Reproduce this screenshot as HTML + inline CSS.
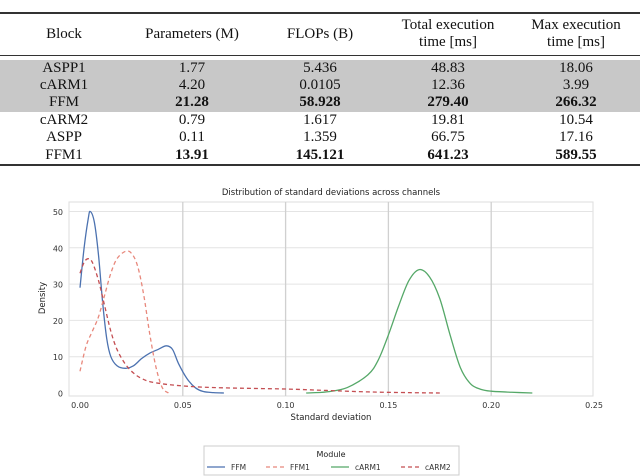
<!DOCTYPE html>
<html><head><meta charset="utf-8"><style>
body{margin:0;width:640px;height:476px;background:#fff;overflow:hidden;position:relative;font-family:"Liberation Serif",serif}
table{position:absolute;left:0;top:12px;width:640px;border-collapse:collapse;font-size:15px;color:#111;table-layout:fixed}
td,th{text-align:center;padding:0;font-weight:normal;line-height:17.4px;height:17.4px;white-space:nowrap}
.b{font-weight:bold}
</style></head><body>
<table>
<colgroup><col style="width:128px"><col style="width:128px"><col style="width:128px"><col style="width:128px"><col style="width:128px"></colgroup>
<tr style="border-top:2px solid #333;border-bottom:1px solid #333;height:42px">
<th>Block</th><th>Parameters (M)</th><th>FLOPs (B)</th><th>Total execution<br>time [ms]</th><th>Max execution<br>time [ms]</th></tr>
<tr style="height:4px"><td colspan="5" style="height:4px;line-height:4px"></td></tr>
<tr style="background:#c8c8c8"><td>ASPP1</td><td>1.77</td><td>5.436</td><td>48.83</td><td>18.06</td></tr>
<tr style="background:#c8c8c8"><td>cARM1</td><td>4.20</td><td>0.0105</td><td>12.36</td><td>3.99</td></tr>
<tr style="background:#c8c8c8"><td>FFM</td><td class="b">21.28</td><td class="b">58.928</td><td class="b">279.40</td><td class="b">266.32</td></tr>
<tr><td>cARM2</td><td>0.79</td><td>1.617</td><td>19.81</td><td>10.54</td></tr>
<tr><td>ASPP</td><td>0.11</td><td>1.359</td><td>66.75</td><td>17.16</td></tr>
<tr style="border-bottom:2px solid #333"><td>FFM1</td><td class="b">13.91</td><td class="b">145.121</td><td class="b">641.23</td><td class="b">589.55</td></tr>
</table>
<svg id="chart" width="640" height="476" style="position:absolute;left:0;top:0" font-family="'DejaVu Sans',sans-serif"></svg>
<script>
const xTicks=[0,0.05,0.10,0.15,0.20,0.25];
const xTickLabels=["0.00","0.05","0.10","0.15","0.20","0.25"];
const yTicks=[0,10,20,30,40,50];
const seriesNames=["FFM","FFM1","cARM1","cARM2"];
const ffmX=[0,0.002,0.004,0.005,0.007,0.009,0.011,0.013,0.015,0.018,0.022,0.026,0.030,0.034,0.038,0.042,0.045,0.048,0.052,0.056,0.060,0.065,0.07];
const ffmY=[29,40,48,50,47,38,25,15,10,7.5,6.8,7.5,9.5,11,12,13,12,8,4,1.5,0.4,0.1,0];
const ffm1X=[0,0.003,0.006,0.009,0.012,0.015,0.018,0.022,0.025,0.028,0.031,0.034,0.037,0.040,0.043];
const ffm1Y=[6,13,17,21,27,33,37,39,38.5,35,27,16,7,1.5,0];
const carm1X=[0.11,0.12,0.13,0.14,0.145,0.15,0.155,0.16,0.165,0.17,0.175,0.18,0.185,0.19,0.195,0.20,0.21,0.22];
const carm1Y=[0,0.3,1.5,5,9,16,24,31,34,32,26,16,7,2.5,1,0.5,0.2,0];
const carm2X=[0,0.002,0.004,0.006,0.009,0.012,0.015,0.018,0.022,0.026,0.030,0.035,0.045,0.06,0.08,0.10,0.12,0.14,0.16,0.175];
const carm2Y=[33,36,37,36,31,24,17,12,8,5.5,4,3,2.2,1.6,1.3,1.1,0.7,0.3,0.1,0];

const svg=document.getElementById('chart');const NS='http://www.w3.org/2000/svg';
const L=69,R=593,T=202,B=396;
const sx=v=>80+v*2056, sy=v=>393-v*3.63;
function mk(tag,attrs,parent){const e=document.createElementNS(NS,tag);for(const k in attrs)e.setAttribute(k,attrs[k]);(parent||svg).appendChild(e);return e;}
const frame=mk('rect',{x:L,y:T,width:R-L,height:B-T,fill:'#fff',stroke:'#ddd','stroke-width':1});


yTicks.forEach(t=>{
 if(t>0){const g=mk('line',{x1:L,x2:R,y1:sy(t),y2:sy(t),stroke:'#e4e4e4','stroke-width':1});
 
 }
 const tx=mk('text',{x:L-6,y:sy(t)+3.5,'text-anchor':'end','font-size':8,fill:'#333'});tx.textContent=t;
 
 
});
xTicks.forEach((t,i)=>{
 if(t>0&&t<0.25){const g=mk('line',{x1:sx(t),x2:sx(t),y1:T,y2:B,stroke:'#d0d0d0','stroke-width':1.3});
 
 }
 const tx=mk('text',{x:sx(t),y:408,'text-anchor':'middle','font-size':8,fill:'#333'});tx.textContent=xTickLabels[i];
 
 
});
function path(xs,ys){const p=xs.map((x,i)=>[sx(x),sy(ys[i])]);let d='M'+p[0][0]+','+p[0][1];
 for(let i=0;i<p.length-1;i++){const p0=p[Math.max(i-1,0)],p1=p[i],p2=p[i+1],p3=p[Math.min(i+2,p.length-1)];
 d+=` C${p1[0]+(p2[0]-p0[0])/6},${p1[1]+(p2[1]-p0[1])/6} ${p2[0]-(p3[0]-p1[0])/6},${p2[1]-(p3[1]-p1[1])/6} ${p2[0]},${p2[1]}`;}return d;}
const styles=[['#4c72b0',''],['#e8887c','4,3'],['#55a868',''],['#c44e52','4,3']];
const data=[[ffmX,ffmY],[ffm1X,ffm1Y],[carm1X,carm1Y],[carm2X,carm2Y]];
data.forEach((d,i)=>{const e=mk('path',{d:path(d[0],d[1]),fill:'none',stroke:styles[i][0],'stroke-width':1.3,'stroke-dasharray':styles[i][1]});
 
 });
const title=mk('text',{x:331,y:195,'text-anchor':'middle','font-size':8.5,fill:'#222'});title.textContent='Distribution of standard deviations across channels';


const xl=mk('text',{x:331,y:420,'text-anchor':'middle','font-size':8.5,fill:'#222'});xl.textContent='Standard deviation';


const yl=mk('text',{x:45,y:298,'text-anchor':'middle','font-size':8.5,fill:'#222',transform:'rotate(-90 45 298)'});yl.textContent='Density';


const lg=mk('g',{});


mk('rect',{x:204,y:446,width:255,height:29,fill:'#fff',stroke:'#ccc'},lg);
const lt=mk('text',{x:331,y:457,'text-anchor':'middle','font-size':8,fill:'#222'},lg);lt.textContent='Module';
const lx=[207,266,331,401];
seriesNames.forEach((n,i)=>{const en=mk('g',{},lg);
 
 
 mk('line',{x1:lx[i],x2:lx[i]+18,y1:467,y2:467,stroke:styles[i][0],'stroke-width':1.3,'stroke-dasharray':styles[i][1]},en);
 const t=mk('text',{x:lx[i]+24,y:470,'font-size':7.5,fill:'#333'},en);t.textContent=n;});
</script>
</body></html>
